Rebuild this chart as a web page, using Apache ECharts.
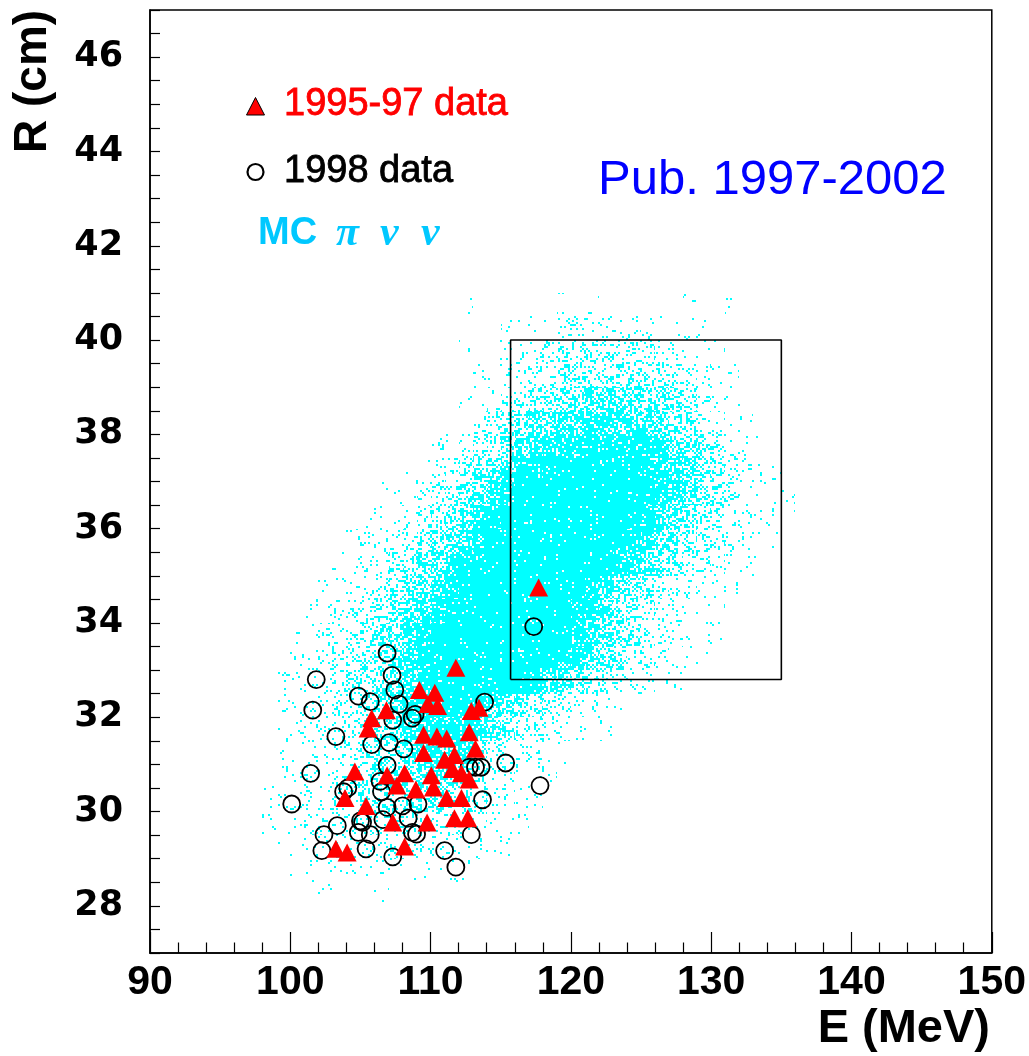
<!DOCTYPE html>
<html>
<head>
<meta charset="utf-8">
<script src="https://cdn.jsdelivr.net/npm/echarts@6/dist/echarts.min.js"></script>
<style>
html,body{margin:0;padding:0;background:#ffffff;}
#chart{width:1029px;height:1056px;}
</style>
</head>
<body>
<div id="chart"></div>
<script>
// ---------------- data ----------------
const xMin = 90, xMax = 150;
const yMin = 27, yMax = 47;
const xTickLabels = [90, 100, 110, 120, 130, 140, 150];
const yTickLabels = [28, 30, 32, 34, 36, 38, 40, 42, 44, 46];

// 1995-97 data (red triangles): [E (MeV), R (cm)]
const data9597 = [
  [117.7,34.75],[111.8,33.05],[109.2,32.58],[110.3,32.52],[109.8,32.28],[110.5,32.24],
  [106.85,32.15],[105.8,31.98],[105.55,31.76],[112.9,32.13],[113.45,32.2],
  [109.5,31.63],[110.45,31.59],[111.15,31.55],[112.75,31.68],[113.2,31.33],
  [109.5,31.24],[111.7,31.2],[111.0,31.1],
  [104.6,30.85],[106.9,30.77],[108.15,30.81],[110.05,30.77],[111.55,30.9],[112.2,30.81],[112.75,30.68],
  [107.6,30.55],[108.95,30.47],[110.2,30.51],
  [103.9,30.29],[105.4,30.12],[111.15,30.29],[112.2,30.29],
  [107.3,29.77],[109.75,29.77],[111.7,29.86],[112.65,29.86],
  [103.25,29.21],[104.05,29.13],[108.15,29.26]
];

// 1998 data (open circles): [E (MeV), R (cm)]
const data1998 = [
  [117.35,33.92],[106.9,33.36],[101.85,32.8],[107.25,32.89],[107.45,32.58],[104.85,32.45],
  [105.7,32.33],[107.75,32.28],[101.6,32.15],[113.85,32.32],[107.3,31.94],[108.7,31.98],
  [108.9,32.06],[103.25,31.59],[105.8,31.42],[107.05,31.46],[108.1,31.33],[101.45,30.81],
  [115.35,31.03],[112.75,30.94],[113.2,30.94],[113.6,30.94],[106.9,30.98],[106.4,30.64],
  [106.5,30.42],[106.9,30.09],[108.0,30.12],[117.8,30.55],[113.7,30.25],[100.1,30.16],
  [103.8,30.42],[104.1,30.5],[109.1,30.16],[108.4,29.86],[106.6,29.83],[105.15,29.77],
  [103.35,29.7],[102.4,29.51],[105.7,29.51],[104.85,29.56],[105.0,29.8],[112.9,29.51],
  [102.25,29.17],[105.4,29.21],[107.3,29.04],[111.0,29.17],[111.8,28.82],[108.7,29.56],
  [109.0,29.52]
];

// Signal box
const boxE = [115.7, 135.0];
const boxR = [32.8, 40.0];

// MC pi-nu-nu density map (level 0..9),
// cells of 1 MeV x 0.5 cm; each row: lower R edge, first E, levels
const mcCellE = 1.0, mcCellR = 0.5;
const mcRowR = [41.0,40.5,40.0,39.5,39.0,38.5,38.0,37.5,37.0,36.5,36.0,35.5,35.0,34.5,
                34.0,33.5,33.0,32.5,32.0,31.5,31.0,30.5,30.0,29.5,29.0,28.5,28.0];
const mcRowE0 = [112,112,115,112,113,112,111,110,108,106,105,104,103,102,
                 101,100,100,99,99,99,99,98,98,98,99,100,102];
const mcRowLevels = [
  "0",
  "10000001010000001001",
  "111122222211111",
  "1011223333333322111",
  "1122334444444433211",
  "112334555666655432111",
  "1123456677777776543211",
  "112345678888888876543211",
  "112345678899999998876543211",
  "111234567899999999998765432111",
  "1122345688999999999987654322111",
  "1122345678999999999987654332111",
  "1122345678999999999987654332111",
  "112234567899999999987654322111",
  "112234567899999999987654322111",
  "1122345678999999999987654322111",
  "112334567899999999987654332111",
  "11223445678999999987654332211",
  "1122334567899987654332211",
  "112233456788887643322111",
  "112233455677775332211",
  "111223344556665322111",
  "11222334445554432211",
  "1112223333333322111",
  "11112222222221111",
  "1111111111111",
  "10001"
];

// ---------------- styling ----------------
const MC_COLOR = '#00ffff';
const levelFrac = [0, 0.04, 0.1, 0.19, 0.3, 0.43, 0.57, 0.72, 0.86, 0.96];

function noise(i, j) {
  let h = Math.imul(i, 374761393) ^ Math.imul(j, 668265263);
  h = Math.imul(h ^ (h >>> 13), 1274126177);
  h = h ^ (h >>> 16);
  return (h >>> 0) / 4294967296;
}
function makePattern(frac) {
  const size = 256, cell = 2;
  const cv = document.createElement('canvas');
  cv.width = size; cv.height = size;
  const ctx = cv.getContext('2d');
  ctx.fillStyle = MC_COLOR;
  for (let i = 0; i < size / cell; i++) {
    for (let j = 0; j < size / cell; j++) {
      if (noise(i + 7, j + 13) < frac) ctx.fillRect(i * cell, j * cell, cell, cell);
    }
  }
  return { image: cv, repeat: 'repeat' };
}
const patterns = levelFrac.map(f => makePattern(f));

const mcCells = [];
mcRowLevels.forEach((s, r) => {
  for (let k = 0; k < s.length; k++) {
    const L = +s[k];
    if (L > 0) mcCells.push([mcRowE0[r] + k * mcCellE, mcRowR[r], L]);
  }
});

function renderCell(params, api) {
  const e = api.value(0), r = api.value(1), L = api.value(2);
  const a = api.coord([e, r + mcCellR]);
  const b = api.coord([e + mcCellE, r]);
  const x0 = Math.round(a[0]), y0 = Math.round(a[1]);
  const x1 = Math.round(b[0]), y1 = Math.round(b[1]);
  return {
    type: 'rect',
    shape: { x: x0, y: y0, width: x1 - x0, height: y1 - y0 },
    style: { fill: patterns[L] },
    silent: true
  };
}

const boxLine = [
  [boxE[0], boxR[0]], [boxE[0], boxR[1]], [boxE[1], boxR[1]], [boxE[1], boxR[0]], [boxE[0], boxR[0]]
];

const SANS = '"Liberation Sans", Arial, Helvetica, sans-serif';

const chart = echarts.init(document.getElementById('chart'), null, { renderer: 'canvas', width: 1029, height: 1056 });
const option = {
  animation: false,
  backgroundColor: '#ffffff',
  grid: { left: 150, right: 37, top: 10, bottom: 103, show: true, borderColor: '#000', borderWidth: 1.5, backgroundColor: 'transparent' },
  xAxis: {
    type: 'value', min: xMin, max: xMax, interval: 10,
    axisLine: { show: true, onZero: false, lineStyle: { color: '#000', width: 1.5 } },
    axisTick: { show: true, inside: true, length: 21, lineStyle: { color: '#000', width: 1.2 } },
    minorTick: { show: true, splitNumber: 5, length: 10.5, lineStyle: { color: '#000', width: 1.2 } },
    splitLine: { show: false }, minorSplitLine: { show: false },
    axisLabel: {
      color: '#000', fontSize: 41, fontWeight: 'bold', fontFamily: SANS, margin: 9,
      formatter: v => (xTickLabels.indexOf(v) >= 0 ? String(v) : '')
    }
  },
  yAxis: {
    type: 'value', min: yMin, max: yMax, interval: 1,
    axisLine: { show: true, onZero: false, lineStyle: { color: '#000', width: 1.5 } },
    axisTick: { show: true, inside: true, length: 10, lineStyle: { color: '#000', width: 1.2 } },
    minorTick: { show: true, splitNumber: 2, length: 10, lineStyle: { color: '#000', width: 1.2 } },
    splitLine: { show: false }, minorSplitLine: { show: false },
    axisLabel: {
      color: '#000', fontSize: 35, fontWeight: 'bold', fontFamily: '"DejaVu Sans", sans-serif', margin: 27,
      formatter: v => (yTickLabels.indexOf(v) >= 0 ? String(v) : '')
    }
  },
  series: [
    {
      name: 'MC', type: 'custom', coordinateSystem: 'cartesian2d',
      renderItem: renderCell, data: mcCells, encode: { x: 0, y: 1 }, z: 1, silent: true
    },
    {
      name: 'box', type: 'line', data: boxLine, symbol: 'none', z: 3, silent: true,
      lineStyle: { color: '#000', width: 1.6 }
    },
    {
      name: '1998 data', type: 'scatter', data: data1998, symbol: 'circle', symbolSize: 17, z: 4,
      itemStyle: { color: 'rgba(0,0,0,0)', borderColor: '#000', borderWidth: 1.8, opacity: 1 }
    },
    {
      name: '1995-97 data', type: 'scatter', data: data9597, symbol: 'triangle', symbolSize: [19, 18], z: 5,
      itemStyle: { color: '#ff0000', opacity: 1 }
    }
  ],
  graphic: [
    { type: 'polygon', shape: { points: [[255.5, 97.5], [246.5, 115], [264.5, 115]] },
      style: { fill: '#ff0000', stroke: '#000', lineWidth: 1 } },
    { type: 'text', x: 284, y: 105,
      style: { text: '1995-97 data', fill: '#ff0000', font: '38px ' + SANS, align: 'left', verticalAlign: 'middle', textAlign: 'left', textVerticalAlign: 'middle', stroke: '#ff0000', lineWidth: 0.8 } },
    { type: 'circle', shape: { cx: 255.5, cy: 172, r: 8 },
      style: { fill: 'none', stroke: '#000', lineWidth: 2.2 } },
    { type: 'text', x: 284, y: 172,
      style: { text: '1998 data', fill: '#000', font: '38px ' + SANS, align: 'left', verticalAlign: 'middle', textAlign: 'left', textVerticalAlign: 'middle', stroke: '#000', lineWidth: 0.8 } },
    { type: 'text', x: 258, y: 234,
      style: { text: 'MC', fill: '#00c8ff', font: 'bold 38px ' + SANS, align: 'left', verticalAlign: 'middle', textAlign: 'left', textVerticalAlign: 'middle' } },
    { type: 'text', x: 336, y: 234,
      style: { text: 'π', fill: '#00c8ff', font: 'italic bold 42px "Liberation Serif", serif', align: 'left', verticalAlign: 'middle', textAlign: 'left', textVerticalAlign: 'middle' } },
    { type: 'text', x: 380, y: 234,
      style: { text: 'ν', fill: '#00c8ff', font: 'italic bold 42px "Liberation Serif", serif', align: 'left', verticalAlign: 'middle', textAlign: 'left', textVerticalAlign: 'middle' } },
    { type: 'text', x: 421, y: 234,
      style: { text: 'ν', fill: '#00c8ff', font: 'italic bold 42px "Liberation Serif", serif', align: 'left', verticalAlign: 'middle', textAlign: 'left', textVerticalAlign: 'middle' } },
    { type: 'text', x: 598, y: 180,
      style: { text: 'Pub. 1997-2002', fill: '#0000ff', font: '49px ' + SANS, align: 'left', verticalAlign: 'middle', textAlign: 'left', textVerticalAlign: 'middle' } },
    { type: 'text', x: 990, y: 1029,
      style: { text: 'E (MeV)', fill: '#000', font: 'bold 47px ' + SANS, align: 'right', verticalAlign: 'middle', textAlign: 'right', textVerticalAlign: 'middle' } },
    { type: 'text', x: 33, y: 153, rotation: Math.PI / 2,
      style: { text: 'R (cm)', fill: '#000', font: 'bold 46px ' + SANS, align: 'left', verticalAlign: 'middle', textAlign: 'left', textVerticalAlign: 'middle' } }
  ]
};
chart.setOption(option);
</script>
</body>
</html>
